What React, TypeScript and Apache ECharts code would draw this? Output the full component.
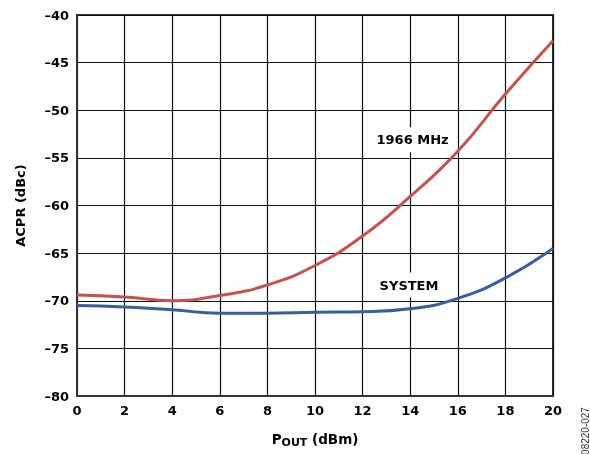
import React, { useEffect, useRef } from "react";
import * as echarts from "echarts";

const xValues = [0, 2, 4, 6, 8, 10, 12, 14, 16, 18, 20];
const red1966 = [-69.4, -69.6, -70.0, -69.45, -68.35, -66.3, -63.2, -59.05, -54.3, -48.3, -42.7];
const system = [-70.5, -70.65, -70.95, -71.3, -71.3, -71.2, -71.15, -70.85, -69.75, -67.6, -64.5];
const labelRed = { text: "1966 MHz", coord: [14.1, -53.1] };
const labelBlue = { text: "SYSTEM", coord: [13.95, -68.35] };

const FONT = "DejaVu Sans";
const RED = "#c9504b";
const BLUE = "#3a5d9e";

export default function App() {
  const ref = useRef<HTMLDivElement>(null);
  useEffect(() => {
    if (!ref.current) return;
    const chart = echarts.init(ref.current, undefined, { renderer: "svg" });
    const dash = (v: number) => String(v).replace("-", "\u2013");
    const mkLabel = (l: { text: string; coord: number[] }) => ({
      symbol: "circle",
      symbolSize: 1,
      itemStyle: { color: "rgba(0,0,0,0)" },
      silent: true,
      data: [{ coord: l.coord, value: l.text }],
      label: {
        show: true,
        position: "inside",
        formatter: l.text,
        color: "#000",
        fontFamily: FONT,
        fontWeight: "bold",
        fontSize: 13,
        backgroundColor: "#fff",
        padding: [6, 5],
      },
    });
    chart.setOption({
      animation: false,
      grid: {
        left: 77,
        right: 37,
        top: 15,
        bottom: 58,
        show: true,
        borderColor: "#333",
        borderWidth: 2,
        backgroundColor: "transparent",
      },
      xAxis: {
        type: "value",
        min: 0,
        max: 20,
        interval: 2,
        axisLine: { show: true, lineStyle: { color: "#333", width: 2 } },
        axisTick: { show: false },
        splitLine: { show: true, lineStyle: { color: "#111", width: 1.2 } },
        axisLabel: {
          color: "#000",
          fontFamily: FONT,
          fontWeight: "bold",
          fontSize: 13,
          margin: 8,
        },
        name: "{p|P}{s|OUT}{p| (dBm)}",
        nameLocation: "middle",
        nameGap: 34,
        nameTextStyle: {
          rich: {
            p: {
              fontFamily: FONT,
              fontWeight: "bold",
              fontSize: 13.5,
              lineHeight: 18,
              verticalAlign: "middle",
              color: "#000",
            },
            s: {
              fontFamily: FONT,
              fontWeight: "bold",
              fontSize: 11,
              lineHeight: 11,
              verticalAlign: "bottom",
              color: "#000",
            },
          },
        },
      },
      yAxis: {
        type: "value",
        min: -80,
        max: -40,
        interval: 5,
        axisLine: { show: true, lineStyle: { color: "#333", width: 2 } },
        axisTick: { show: false },
        splitLine: { show: true, lineStyle: { color: "#111", width: 1.2 } },
        axisLabel: {
          color: "#000",
          fontFamily: FONT,
          fontWeight: "bold",
          fontSize: 13,
          margin: 8,
          formatter: dash,
        },
        name: "ACPR (dBc)",
        nameLocation: "middle",
        nameGap: 50,
        nameTextStyle: {
          color: "#000",
          fontFamily: FONT,
          fontWeight: "bold",
          fontSize: 13,
        },
      },
      graphic: [
        {
          type: "text",
          x: 585,
          y: 431,
          rotation: Math.PI / 2,
          style: {
            text: "08220-027",
            fontFamily: "Liberation Sans",
            fontSize: 10,
            fill: "#333",
            align: "center",
            verticalAlign: "middle",
          },
        },
      ],
      series: [
        {
          type: "line",
          name: "1966 MHz",
          smooth: true,
          showSymbol: false,
          data: xValues.map((x, i) => [x, red1966[i]]),
          lineStyle: { color: RED, width: 3 },
          itemStyle: { color: RED },
          markPoint: mkLabel(labelRed),
          z: 3,
        },
        {
          type: "line",
          name: "SYSTEM",
          smooth: true,
          showSymbol: false,
          data: xValues.map((x, i) => [x, system[i]]),
          lineStyle: { color: BLUE, width: 3 },
          itemStyle: { color: BLUE },
          markPoint: mkLabel(labelBlue),
          z: 3,
        },
      ],
    });
    return () => chart.dispose();
  }, []);
  return (
    <div
      ref={ref}
      style={{ position: "fixed", left: 0, top: 0, width: 590, height: 454 }}
    />
  );
}
